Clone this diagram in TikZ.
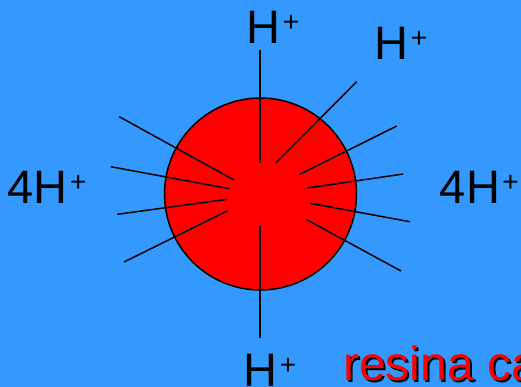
\documentclass[tikz,border=0pt]{standalone}
\usepackage{fontspec}
\setmainfont{Liberation Sans}
\definecolor{bgblue}{RGB}{51,153,255}
\definecolor{resred}{RGB}{255,0,0}
\newcommand{\hplus}[1]{#1\kern2.5pt\raisebox{12pt}{\fontsize{28}{28}\selectfont +}}
\begin{document}
\begin{tikzpicture}[x=1pt,y=-1pt,
  lbl/.style={anchor=base west,inner sep=0pt,font=\fontsize{47}{47}\selectfont,text=black},
  ray/.style={draw=black,line width=1.5pt},
  resin/.style={font=\fontsize{48}{48}\selectfont,anchor=base west,inner sep=0pt}]
\useasboundingbox (0,0) rectangle (521,387);
\clip (0,0) rectangle (521,387);
\fill[bgblue] (0,0) rectangle (521,387);
\node[circle,draw=black,line width=1.5pt,fill=resred,minimum size=192pt,inner sep=0pt] (bead) at (260.5,194) {};
% rays
\draw[ray] (260,50) -- (260,163);
\draw[ray] (356.7,81.7) -- (276,162.7);
\draw[ray] (396.7,126) -- (299,174.7);
\draw[ray] (403.3,174) -- (307.3,188);
\draw[ray] (410,221.7) -- (310,203.3);
\draw[ray] (401,271) -- (306,219.3);
\draw[ray] (119.3,116.7) -- (234,180);
\draw[ray] (110.7,166.7) -- (229.3,188.7);
\draw[ray] (117.3,214.3) -- (227.3,199.3);
\draw[ray] (124,262) -- (227.7,210.7);
\draw[ray] (260,226) -- (260,338.3);
% labels
\node[lbl] (htop) at (246.3,44) {\hplus{H}};
\node[lbl] (hur) at (374.3,60) {\hplus{H}};
\node[lbl] (hleft) at (7.3,204) {\hplus{4H}};
\node[lbl] (hright) at (439.7,204) {\hplus{4H}};
\node[lbl] (hbot) at (243.3,386) {\hplus{H}};
\node[resin,text=black] (resinshadow) at (345,382) {resina ca};
\node[resin,text=resred] (resin) at (343,380) {resina ca};
\end{tikzpicture}
\end{document}
